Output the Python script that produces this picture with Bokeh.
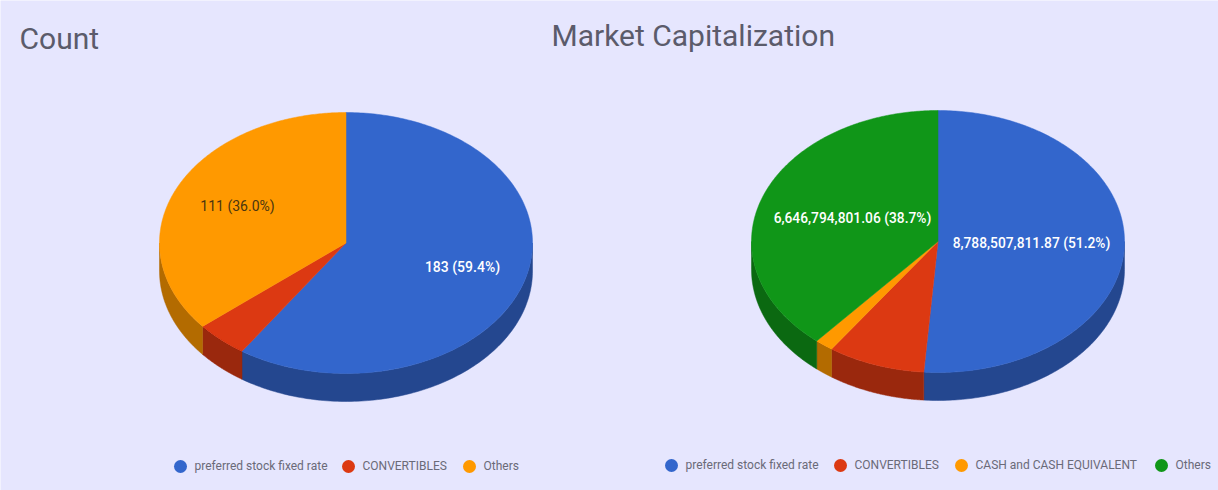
import numpy as np
from bokeh.plotting import figure
from bokeh.models import Range1d
from bokeh.core.properties import value
from bokeh.embed import file_html
from bokeh.resources import INLINE

# ---- data
count_categories = ["preferred stock fixed rate", "CONVERTIBLES", "Others"]
count_values = [183, 14, 111]
count_labels = ["183 (59.4%)", None, "111 (36.0%)"]

cap_categories = ["preferred stock fixed rate", "CONVERTIBLES", "CASH and CASH EQUIVALENT", "Others"]
cap_values = [8788507811.87, 1450000000.0, 275000000.0, 6646794801.06]
cap_labels = ["8,788,507,811.87 (51.2%)", None, None, "6,646,794,801.06 (38.7%)"]

# ---- style
BG = "#e6e6fe"
TOP = {"preferred stock fixed rate": "#3366cc", "CONVERTIBLES": "#dc3912",
       "CASH and CASH EQUIVALENT": "#ff9900", "Others": "#ff9900"}
SIDE = {"#3366cc": "#24478f", "#dc3912": "#9a280d", "#ff9900": "#b36b00", "#109618": "#0b6911"}
TITLE_C = "#5b5b6b"
LEG_C = "#6a6a78"
FONT = value("Roboto")
LABEL_FONT = value("Roboto Medium")

p = figure(width=1218, height=490, output_backend="svg", toolbar_location=None,
           x_range=Range1d(0, 1218), y_range=Range1d(490, 0),
           background_fill_color=BG, border_fill_color=BG, min_border=0, outline_line_color=None)
p.xaxis.visible = False
p.yaxis.visible = False
p.xgrid.visible = False
p.ygrid.visible = False


def pie(values, colors, cx, cy, rx=186.5, ry=130.5, depth=28):
    v = np.asarray(values, dtype=float)
    edges = np.concatenate([[0], np.cumsum(v) / v.sum() * 2 * np.pi])
    side_x, side_y, side_c, top_x, top_y, top_c = [], [], [], [], [], []
    for a, b, c in zip(edges[:-1], edges[1:], colors):
        lo, hi = max(a, np.pi / 2), min(b, 3 * np.pi / 2)
        if hi > lo:
            t = np.linspace(lo, hi, 120)
            ax = cx + rx * np.sin(t)
            ay = cy - ry * np.cos(t)
            side_x.append(np.concatenate([ax, ax[::-1]]))
            side_y.append(np.concatenate([ay, ay[::-1] + depth]))
            side_c.append(SIDE[c])
        t = np.linspace(a, b, 240)
        top_x.append(np.concatenate([[cx], cx + rx * np.sin(t)]))
        top_y.append(np.concatenate([[cy], cy - ry * np.cos(t)]))
        top_c.append(c)
    p.patches(side_x, side_y, fill_color=side_c, line_color=side_c, line_width=0.5)
    p.patches(top_x, top_y, fill_color=top_c, line_color=top_c, line_width=0.5)


def legend(cats, colors, dots_x, y):
    p.scatter(dots_x, [y] * len(cats), size=13, marker="circle", fill_color=colors, line_color=None)
    p.text([d + 14 for d in dots_x], [y - 0.5] * len(cats), text=cats, text_font=FONT,
           text_font_size="12px", text_color=LEG_C, text_baseline="middle", text_align="left")


count_colors = [TOP[c] for c in count_categories]
cap_colors = ["#3366cc", "#dc3912", "#ff9900", "#109618"]

pie(count_values, count_colors, 345.5, 242.5)
pie(cap_values, cap_colors, 937.5, 241, ry=131)

# titles
p.text([19], [38], text=["Count"], text_font=FONT, text_font_size="30px", text_color=TITLE_C,
       text_baseline="middle", text_align="left")
p.text([551], [35], text=["Market Capitalization"], text_font=FONT, text_font_size="30px",
       text_color=TITLE_C, text_baseline="middle", text_align="left")

# data labels
p.text([462], [266.5], text=[count_labels[0]], text_font=LABEL_FONT,
       text_font_size="14px", text_color="#ffffff", text_baseline="middle", text_align="center")
p.text([237], [205.5], text=[count_labels[2]], text_font=FONT,
       text_font_size="14px", text_color="#4a3510", text_baseline="middle", text_align="center")
p.text([1031, 852], [242.5, 217.5], text=[cap_labels[0], cap_labels[3]], text_font=LABEL_FONT,
       text_font_size="13.8px", text_color=["#ffffff", "#ffffff"],
       text_baseline="middle", text_align="center")

legend(count_categories, count_colors, [180, 348, 469], 466)
legend(cap_categories, cap_colors, [671, 840, 961, 1161], 465)

open("out.html", "w").write(file_html(p, INLINE))
